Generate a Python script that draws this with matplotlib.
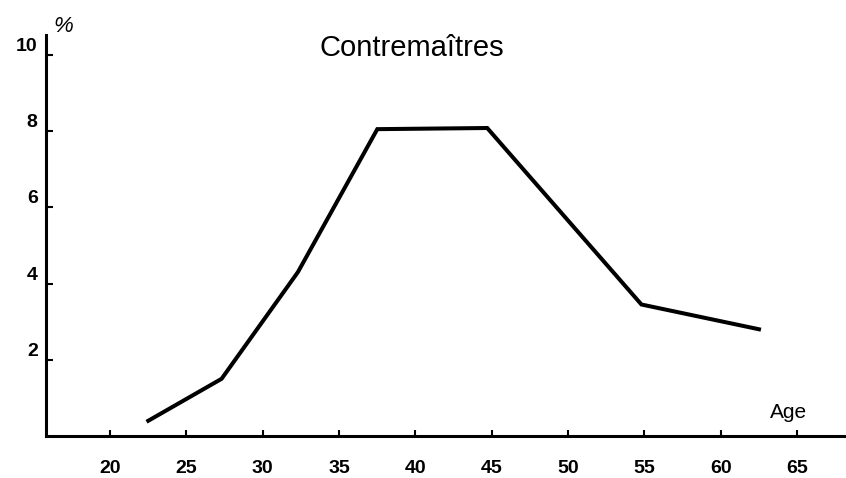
import matplotlib.pyplot as plt
import numpy as np

plt.rcParams['font.family'] = ['Liberation Sans', 'DejaVu Sans']

# données
ages = [22.5, 27.3, 32.3, 37.5, 44.7, 54.8, 62.5]
pct = [0.4, 1.5, 4.3, 8.05, 8.08, 3.45, 2.8]
xticks = [20, 25, 30, 35, 40, 45, 50, 55, 60, 65]
yticks = [2, 4, 6, 8, 10]

fig = plt.figure(figsize=(8.46, 4.78), dpi=100)
ax = fig.add_axes([46/846, 42/478, 1 - 46/846, (436 - 35)/478])

ax.plot(ages, pct, color='black', lw=2.9, solid_joinstyle='miter')

ax.set_xlim(15.8, 68.2)
ax.set_ylim(0, 10.52)
for s in ['top', 'right']:
    ax.spines[s].set_visible(False)
for s in ['left', 'bottom']:
    ax.spines[s].set_linewidth(2.2)

ax.set_xticks(xticks, [str(v) for v in xticks])
ax.set_yticks(yticks, [str(v) for v in yticks])
ax.tick_params(axis='x', direction='in', length=4, width=1.5, pad=17,
               labelsize=14)
ax.tick_params(axis='y', direction='in', length=5, width=1.5, pad=6,
               labelsize=14)
for lab in ax.get_xticklabels() + ax.get_yticklabels():
    lab.set_fontweight('bold')
for lab in ax.get_yticklabels():
    lab.set_verticalalignment('bottom')

fig.text(412/846, 1 - 48/478, 'Contremaîtres', ha='center', va='center',
         fontsize=21)
fig.text(63/846, 1 - 27/478, '%', ha='center', va='center', fontsize=16,
         style='italic')
fig.text(789/846, 1 - 412/478, 'Age', ha='center', va='center', fontsize=15)

fig.savefig('out.png', dpi=100)
